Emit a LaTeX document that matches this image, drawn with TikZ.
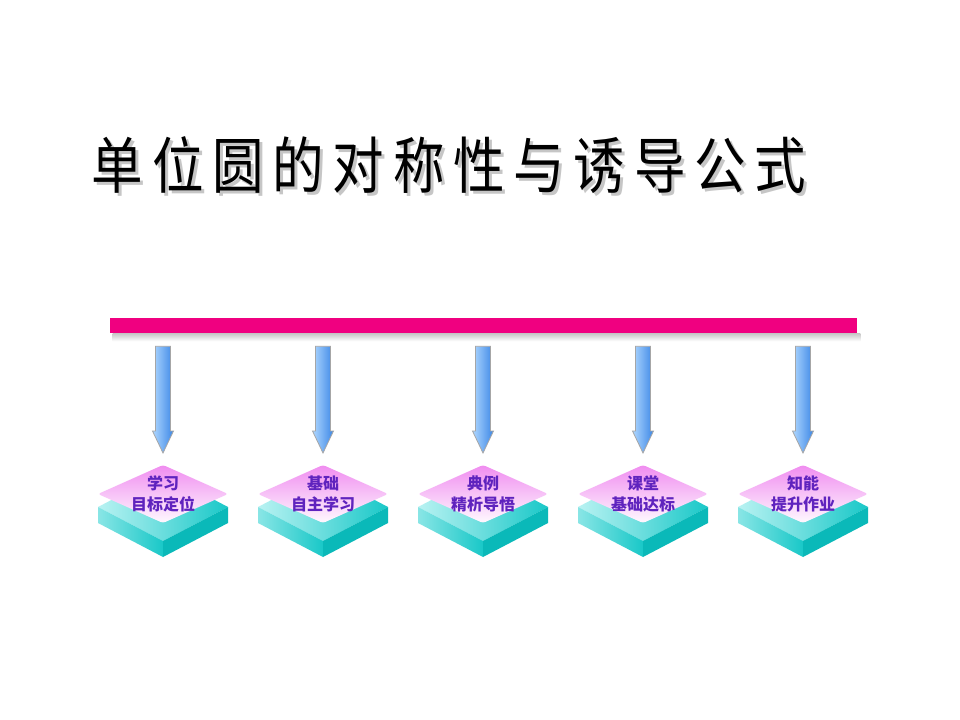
\documentclass[tikz,border=0pt]{standalone}
\usepackage{fontspec}
\usepackage{graphicx}
\newfontfamily\cjk{Noto Sans CJK SC}
\usetikzlibrary{calc}
\definecolor{barpink}{RGB}{240,0,128}
\definecolor{padtxt}{RGB}{95,35,190}
\definecolor{pinktop}{RGB}{240,140,240}
\definecolor{tealL}{RGB}{185,242,242}
\definecolor{tealR}{RGB}{25,200,200}
\definecolor{tealD}{RGB}{10,185,185}
\definecolor{arrL}{RGB}{175,215,255}
\definecolor{arrM}{RGB}{100,170,250}
\definecolor{arrR}{RGB}{60,135,230}
\newcommand\ttlch[1]{\makebox[45.2pt]{\scalebox{0.84}[1]{#1}}}
\newcommand\ttltext{\ttlch{单}\ttlch{位}\ttlch{圆}\ttlch{的}\ttlch{对}\ttlch{称}\ttlch{性}\ttlch{与}\ttlch{诱}\ttlch{导}\ttlch{公}\ttlch{式}}
\begin{document}
\begin{tikzpicture}[x=0.75pt,y=-0.75pt,
  titlefont/.style={font=\cjk\fontsize{46}{46}\selectfont, inner sep=0},
  padtext/.style={font=\cjk\bfseries\fontsize{12}{15.75}\selectfont, text=padtxt, align=center, inner sep=0},
  arrowbody/.style={left color=arrL, middle color=arrM, right color=arrR, draw=gray!70, line width=0.6pt},
  pinkpad/.style={top color=pinktop, bottom color=white!95!pinktop, rounded corners=2pt},
  slabtop/.style={left color=tealL, right color=tealR},
  slableft/.style={left color=tealL!70!tealR, right color=tealR},
  slabright/.style={fill=tealD}]
\useasboundingbox (0,0) rectangle (960,720);
\fill[white] (0,0) rectangle (960,720);
% title
\node[titlefont, text=gray!45] (titleshadow) at (452,168) {\ttltext};
\node[titlefont, text=black] (title) at (449,165) {\ttltext};
% bar
\node[fill=barpink, inner sep=0, minimum width=560.25pt, minimum height=11.25pt] (bar) at (483.5,325.5) {};
\fill[top color=gray!45, bottom color=white] ($(bar.south west)+(3,0)$) rectangle ($(bar.south east)+(3,8)$);
% pads and arrows
\foreach \i/\la/\lb in {1/学习/目标定位, 2/基础/自主学习, 3/典例/精析导悟, 4/课堂/基础达标, 5/知能/提升作业}{
  \pgfmathsetmacro\cx{163+160*(\i-1)}
  \coordinate (c\i) at (\cx,494);
  \path[slabtop] ($(c\i)+(-65,13)$) -- ($(c\i)+(0,-21)$) -- ($(c\i)+(65,13)$) -- ($(c\i)+(0,47)$) -- cycle;
  \path[slableft] ($(c\i)+(-65,13)$) -- ($(c\i)+(0,47)$) -- ($(c\i)+(0,63)$) -- ($(c\i)+(-65,29)$) -- cycle;
  \path[slabright] ($(c\i)+(65,13)$) -- ($(c\i)+(0,47)$) -- ($(c\i)+(0,63)$) -- ($(c\i)+(65,29)$) -- cycle;
  \path[pinkpad] ($(c\i)+(0,-29)$) -- ($(c\i)+(65,0)$) -- ($(c\i)+(0,29)$) -- ($(c\i)+(-65,0)$) -- cycle;
  \node[padtext] (p\i) at (c\i) {\la\\\lb};
  \coordinate (s\i) at ($(bar.south -| c\i)+(0,13)$);
  \coordinate (t\i) at ($(c\i)+(0,-41)$);
  \path[arrowbody] ($(s\i)+(-7.5,0)$) -- ($(s\i)+(7.5,0)$) -- ($(t\i)+(7.5,-22)$) -- ($(t\i)+(10.5,-22)$) -- (t\i) -- ($(t\i)+(-10.5,-22)$) -- ($(t\i)+(-7.5,-22)$) -- cycle;
}
\end{tikzpicture}
\end{document}
